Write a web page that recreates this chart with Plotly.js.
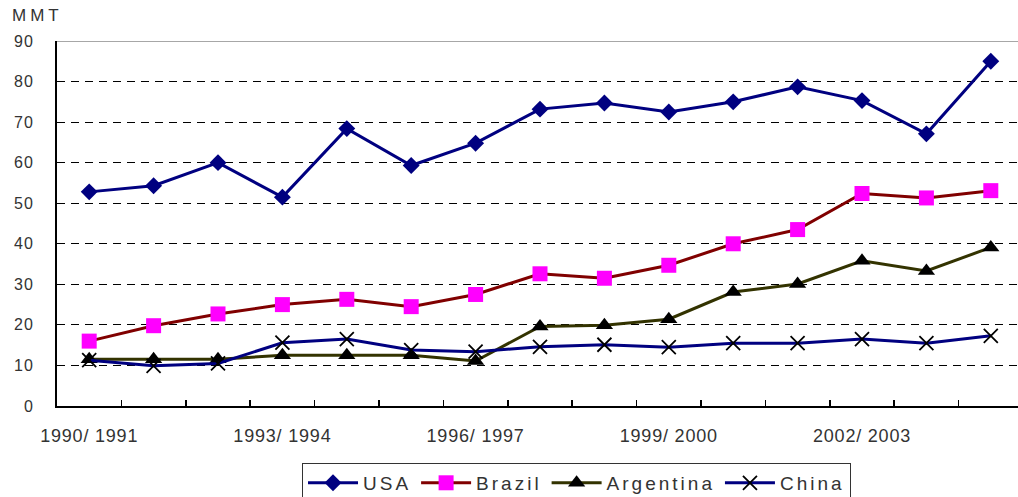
<!DOCTYPE html>
<html>
<head>
<meta charset="utf-8">
<script src="https://cdn.plot.ly/plotly-3.0.1.min.js"></script>
<style>
  html, body { margin: 0; padding: 0; overflow: hidden; background: #fff; }
  #chart { width: 1030px; height: 497px; }
  .xtick text { letter-spacing: 0.8px; }
  .ytick text { letter-spacing: 1px; }
  text.legendtext { letter-spacing: 3px; }
  .annotation-text { letter-spacing: 4px; }
</style>
</head>
<body>
<div id="chart"></div>
<script>
const seasons = ["1990/1991","1991/1992","1992/1993","1993/1994","1994/1995","1995/1996","1996/1997",
                 "1997/1998","1998/1999","1999/2000","2000/2001","2001/2002","2002/2003","2003/2004","2004/2005"];
const tickLabels = ["1990/ 1991","","","1993/ 1994","","","1996/ 1997","","","1999/ 2000","","","2002/ 2003","",""];
const usa       = [52.8, 54.3, 60.0, 51.5, 68.4, 59.3, 64.8, 73.2, 74.7, 72.5, 75.0, 78.7, 75.3, 67.1, 85.0];
const brazil    = [16.0, 19.8, 22.7, 25.0, 26.3, 24.5, 27.5, 32.6, 31.5, 34.7, 40.0, 43.5, 52.4, 51.3, 53.1];
const argentina = [11.5, 11.5, 11.5, 12.5, 12.5, 12.5, 11.1, 19.6, 19.9, 21.4, 28.1, 30.1, 35.8, 33.3, 39.1];
const china     = [11.3, 9.9, 10.5, 15.6, 16.5, 13.8, 13.4, 14.6, 15.1, 14.5, 15.5, 15.5, 16.5, 15.5, 17.3];
const yTicks = [0, 10, 20, 30, 40, 50, 60, 70, 80, 90];

const traces = [
  {name: "USA", x: seasons, y: usa, type: "scatter", mode: "lines+markers",
   line: {color: "#000080", width: 3},
   marker: {symbol: "diamond", size: 13, color: "#000080", line: {width: 0}}},
  {name: "Brazil", x: seasons, y: brazil, type: "scatter", mode: "lines+markers",
   line: {color: "#800000", width: 3},
   marker: {symbol: "square", size: 15, color: "#FF00FF", line: {width: 0}}},
  {name: "Argentina", x: seasons, y: argentina, type: "scatter", mode: "lines+markers",
   line: {color: "#333300", width: 3},
   marker: {symbol: "triangle-up", size: 15, color: "#000000", line: {width: 0}}},
  {name: "China", x: seasons, y: china, type: "scatter", mode: "lines+markers",
   line: {color: "#000080", width: 3},
   marker: {symbol: "x-thin", size: 14, color: "#000000", line: {width: 1.8, color: "#000000"}}}
];

const layout = {
  width: 1030, height: 497,
  margin: {l: 57, r: 7, t: 41, b: 91, autoexpand: false},
  paper_bgcolor: "#fff", plot_bgcolor: "#fff",
  font: {family: "Liberation Sans, Arial, sans-serif", color: "#333333"},
  showlegend: true,
  xaxis: {
    type: "category",
    range: [-0.5, 14.5],
    tickmode: "array", tickvals: seasons, ticktext: tickLabels,
    tickson: "boundaries",
    tickangle: 0,
    ticks: "inside", ticklen: 6, tickwidth: 1.5, tickcolor: "#000",
    showline: true, linecolor: "#000", linewidth: 2,
    showgrid: false, zeroline: false,
    tickfont: {size: 18, color: "#333333"},
    ticklabelstandoff: 12,
    automargin: false,
    fixedrange: true
  },
  yaxis: {
    range: [0, 90],
    tickmode: "array", tickvals: yTicks,
    showline: true, linecolor: "#000", linewidth: 2,
    showgrid: true, gridcolor: "#000", gridwidth: 1, griddash: "8px,6px",
    zeroline: false, ticks: "",
    tickfont: {size: 16, color: "#333333"},
    ticklabelstandoff: 18,
    automargin: false,
    fixedrange: true
  },
  shapes: [
    {type: "line", xref: "paper", x0: 0, x1: 1, yref: "y", y0: 90, y1: 90,
     line: {color: "#8a8a8a", width: 1.5}, layer: "below"}
  ],
  annotations: [
    {text: "MMT", xref: "paper", yref: "paper", x: -0.049, y: 1.07, xanchor: "left", yanchor: "middle",
     showarrow: false, font: {size: 17, color: "#333333"}}
  ],
  legend: {
    orientation: "h", x: 0.5378, xanchor: "center", y: -0.156, yanchor: "top",
    bordercolor: "#333", borderwidth: 1, bgcolor: "#fff",
    font: {size: 19, color: "#333333"},
    itemwidth: 50,
    traceorder: "normal"
  }
};

Plotly.newPlot("chart", traces, layout, {displayModeBar: false, staticPlot: true});
</script>
</body>
</html>
